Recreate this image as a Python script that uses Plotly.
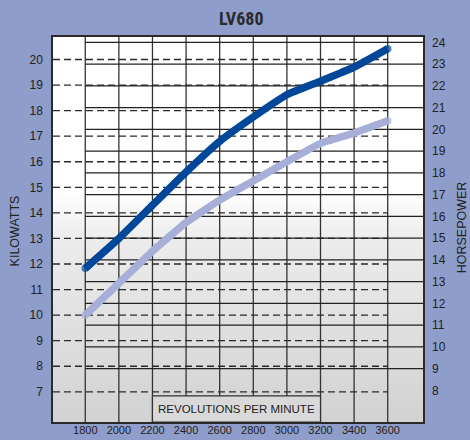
import plotly.graph_objects as go

# ---- data ----
rpm = [1800, 2000, 2200, 2400, 2600, 2800, 3000, 3200, 3400, 3600]
kw_dark = [11.83, 13.0, 14.3, 15.6, 16.8, 17.75, 18.62, 19.15, 19.7, 20.42]
kw_light = [10.0, 11.25, 12.5, 13.62, 14.5, 15.25, 16.0, 16.72, 17.12, 17.6]
kw_ticks = list(range(7, 21))
hp_ticks = list(range(8, 25))
hp_lines = list(range(9, 25))
x_label = "REVOLUTIONS PER MINUTE"
title = "LV680"

# ---- axis ranges / style ----
XR = [1608, 3810]
YR = [5.82, 20.88]
HR = [6.545, 24.25]
BG = "#8e9dca"
DARK = "#00479a"
LIGHT = "#a7afd8"
GRID = "#333333"
FONT = "Liberation Sans, Arial, sans-serif"

fig = go.Figure()

# plot background gradient
fig.add_trace(go.Scatter(
    x=[XR[0], XR[1], XR[1], XR[0], XR[0]],
    y=[YR[0], YR[0], YR[1], YR[1], YR[0]],
    mode="lines", line=dict(width=0), fill="toself",
    fillgradient=dict(type="vertical",
                      colorscale=[[0, "#d2d2d2"], [0.47, "#ececec"], [0.6, "#ffffff"], [1, "#ffffff"]]),
    hoverinfo="skip", showlegend=False))

# vertical grid lines
vx, vy = [], []
for v in rpm:
    vx += [v, v, None]
    vy += [YR[0], YR[1], None]
fig.add_trace(go.Scatter(x=vx, y=vy, mode="lines", line=dict(color=GRID, width=1.3),
                         hoverinfo="skip", showlegend=False))

# dashed kW lines
dx, dy = [], []
for k in kw_ticks:
    dx += [XR[0], rpm[-1], None]
    dy += [k, k, None]
fig.add_trace(go.Scatter(x=dx, y=dy, mode="lines",
                         line=dict(color="#2a2a2a", width=1.3, dash="7px,4px"),
                         hoverinfo="skip", showlegend=False))

# axis-title box at the bottom
box_top = 6.84
fig.add_trace(go.Scatter(
    x=[2200, 3200, 3200, 2200, 2200],
    y=[YR[0], YR[0], box_top, box_top, YR[0]],
    mode="lines", line=dict(color=GRID, width=1.2), fill="toself", fillcolor="#d9d9d9",
    hoverinfo="skip", showlegend=False))

# solid HP lines (right axis)
hx, hy = [], []
for h in hp_lines:
    hx += [rpm[0], XR[1], None]
    hy += [h, h, None]
fig.add_trace(go.Scatter(x=hx, y=hy, mode="lines", yaxis="y2",
                         line=dict(color="#222222", width=1.2),
                         hoverinfo="skip", showlegend=False))

# curves
ends = [7.5] + [0] * (len(rpm) - 2) + [7.5]
fig.add_trace(go.Scatter(x=rpm, y=kw_light, yaxis="y3", mode="lines+markers",
                         line=dict(color=LIGHT, width=7.5, shape="spline", smoothing=0.4),
                         marker=dict(size=ends, color=LIGHT, line=dict(width=0)), showlegend=False))
fig.add_trace(go.Scatter(x=rpm, y=kw_dark, yaxis="y3", mode="lines+markers",
                         line=dict(color=DARK, width=7.5, shape="spline", smoothing=0.4),
                         marker=dict(size=ends, color=DARK, line=dict(width=0)), showlegend=False))

fig.update_layout(
    width=470, height=440,
    margin=dict(l=53, r=47, t=37, b=18, autoexpand=False),
    paper_bgcolor=BG, plot_bgcolor="white",
    font=dict(family=FONT, color="#222222"),
    xaxis=dict(range=XR, tickvals=rpm, showgrid=False, zeroline=False, automargin=False,
               showline=True, mirror=True, linecolor="#2a2a2a", linewidth=1.5,
               ticks="", tickfont=dict(size=11, color="#222222"), ticklabelstandoff=-3),
    yaxis=dict(range=YR, tickvals=kw_ticks, showgrid=False, zeroline=False, automargin=False,
               showline=True, mirror=True, linecolor="#2a2a2a", linewidth=1.5,
               ticks="", tickfont=dict(size=12, color="#222222"), ticklabelstandoff=6),
    yaxis2=dict(range=HR, tickvals=hp_ticks, overlaying="y", side="right", automargin=False,
                showgrid=False, zeroline=False, showline=False, ticks="",
                tickfont=dict(size=12, color="#222222"), ticklabelstandoff=8),
    yaxis3=dict(range=YR, overlaying="y", visible=False, automargin=False),
    annotations=[
        dict(text="<b>" + title + "</b>", x=0.509, y=1.049, xref="paper", yref="paper",
             showarrow=False, xanchor="center", yanchor="middle",
             font=dict(family="Liberation Sans Narrow, Roboto Condensed, DejaVu Sans Condensed, sans-serif",
                       size=18, color="#2b2b2b")),
        dict(text=x_label, x=2700, y=0.034, xref="x", yref="paper", showarrow=False,
             xanchor="center", yanchor="middle", font=dict(size=11.5, color="#222222")),
        dict(text="KILOWATTS", x=-0.1027, y=0.495, xref="paper", yref="paper", showarrow=False,
             textangle=-90, xanchor="center", yanchor="middle", font=dict(size=12.5, color="#222222")),
        dict(text="HORSEPOWER", x=1.104, y=0.507, xref="paper", yref="paper", showarrow=False,
             textangle=-90, xanchor="center", yanchor="middle", font=dict(size=12.5, color="#222222")),
    ],
)

fig.write_html(
    "out.html",
    config={"displayModeBar": False},
    post_script="document.body.style.margin='0';document.body.style.background='" + BG + "';",
)
